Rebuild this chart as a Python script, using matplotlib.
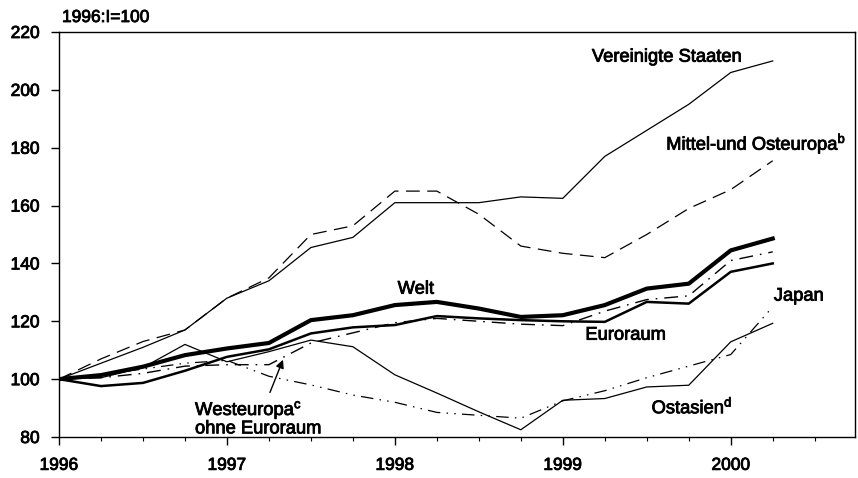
import matplotlib
matplotlib.use("Agg")
import matplotlib.pyplot as plt
import matplotlib.patheffects as pe
import numpy as np

plt.rcParams['font.family'] = ['Liberation Sans', 'DejaVu Sans']
plt.rcParams['mathtext.fontset'] = 'custom'
plt.rcParams['mathtext.rm'] = 'Liberation Sans'
plt.rcParams['mathtext.it'] = 'Liberation Sans:italic'

# Quarterly index values, 1996:I = 100
quarters = [1996.0, 1996.25, 1996.5, 1996.75, 1997.0, 1997.25, 1997.5, 1997.75,
            1998.0, 1998.25, 1998.5, 1998.75, 1999.0, 1999.25, 1999.5, 1999.75,
            2000.0, 2000.25]
usa = [100, 105.5, 111, 117, 128, 134, 145.5, 149, 161, 161, 161, 163, 162.5,
       177, 186, 195, 206, 210]
moe = [100, 107, 113, 117, 128, 135, 150, 153, 165, 165, 157, 146, 143.5,
       142, 150, 159, 165.5, 175.5]
welt = [100, 101.4, 104.3, 108.3, 110.6, 112.5, 120.4, 122.1, 125.6, 126.7,
        124.4, 121.5, 122.1, 125.6, 131.3, 133, 144.5, 148.6]
euroraum = [100, 97.6, 98.7, 102.9, 107.7, 110.3, 115.8, 117.9, 118.7, 121.8,
            121, 120.4, 120, 119.8, 126.7, 126.1, 137.1, 140]
westeuropa = [100, 100.5, 102, 104.5, 105, 105, 112.5, 116, 119.5, 121, 120,
              119, 118.5, 123.5, 127.5, 128.8, 141, 144]
japan = [100, 101.5, 103.5, 105.5, 106.5, 101, 98, 94.5, 92, 88.5, 87.5, 86.5,
         92.5, 96, 100.5, 104.5, 108.5, 125]
ostasien = [100, 100.5, 104, 112, 106, 109.5, 113.5, 111.2, 101.5, 95.2, 88.7,
            82.5, 92.7, 93.3, 97.3, 97.9, 112.9, 119.3]

year_ticks = [1996, 1997, 1998, 1999, 2000]
y_ticks = [80, 100, 120, 140, 160, 180, 200, 220]

fig = plt.figure(figsize=(8.58, 4.78), dpi=100)
ax = fig.add_axes([59/858, (478-437)/478, (855-59)/858, (437-32)/478])

ax.plot(quarters, usa, color='black', lw=0.9)
ax.plot(quarters, moe, color='black', lw=0.9, dashes=(11, 6))
ax.plot(quarters, ostasien, color='black', lw=0.9)
ax.plot(quarters, japan, color='black', lw=0.9, dashes=(10, 5, 1.2, 5, 1.2, 5))
ax.plot(quarters, westeuropa, color='black', lw=1.0, dashes=(10, 5, 1.2, 5))
ax.plot(quarters, euroraum, color='black', lw=1.8)
ax.plot(quarters, welt, color='black', lw=3.0)

ax.set_xlim(1996, 2000.74)
ax.set_ylim(80, 220)
ax.set_xticks(year_ticks)
ax.set_xticklabels([str(y) for y in year_ticks])
ax.set_xticks(np.arange(1996, 2000.74, 0.25), minor=True)
ax.set_yticks(y_ticks)
ax.tick_params(axis='both', which='major', direction='out', length=6,
               width=1.0, labelsize=12.5)
ax.tick_params(axis='y', which='major', pad=8)
ax.tick_params(axis='x', which='major', pad=9)
ax.tick_params(axis='x', which='minor', direction='out', length=3, width=0.8)
ax.tick_params(axis='y', which='minor', length=0)
for s in ax.spines.values():
    s.set_linewidth(1.0)

heavy = [pe.withStroke(linewidth=0.6, foreground='black')]
for lab in ax.get_xticklabels() + ax.get_yticklabels():
    lab.set_path_effects(heavy)

fig.text(62/858, 1 - 22/478, '1996:I=100', fontsize=12.5, ha='left',
         va='baseline', path_effects=heavy)

fs = 13.2
kw = dict(fontsize=fs, va='center', path_effects=heavy)
ax.text(1999.62, 211.3, 'Vereinigte Staaten', ha='center', **kw)
ax.text(2000.69, 181.4, r'Mittel-und Osteuropa$^{\mathrm{b}}$', ha='right',
        **kw)
ax.text(1998.125, 131.1, 'Welt', ha='center', **kw)
ax.text(1999.375, 115.2, 'Euroraum', ha='center', **kw)
ax.text(2000.405, 128.7, 'Japan', ha='center', **kw)
ax.text(1999.77, 90.3, r'Ostasien$^{\mathrm{d}}$', ha='center', **kw)
ax.text(1996.81, 86.5, 'Westeuropa$^{\\mathrm{c}}$\nohne Euroraum',
        ha='left', linespacing=0.95, **kw)
ax.annotate('', xy=(1997.34, 107.6), xytext=(1997.25, 94.5),
            arrowprops=dict(arrowstyle='-|>', color='black', lw=1.0,
                            mutation_scale=12))

fig.savefig('out.png', dpi=100)
